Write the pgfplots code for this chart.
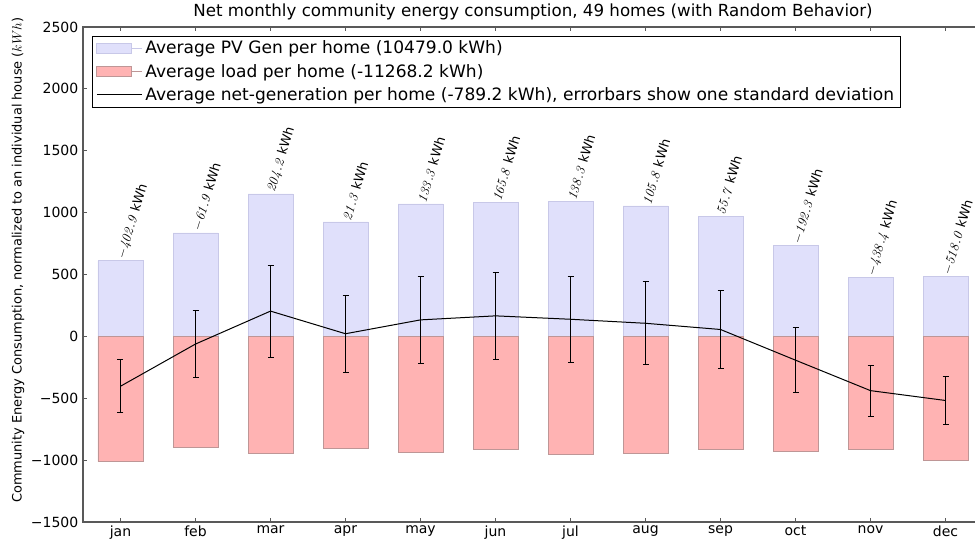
\documentclass[border=0pt]{standalone}
\usepackage[no-math]{fontspec}
\setmainfont{DejaVu Sans}
\usepackage{pgfplots}
\pgfplotsset{compat=1.18}
\definecolor{pvfill}{RGB}{224,224,251}
\definecolor{pvdraw}{RGB}{200,200,232}
\definecolor{ldfill}{RGB}{255,179,179}
\definecolor{lddraw}{RGB}{190,150,150}
\begin{document}
\begin{tikzpicture}
\begin{axis}[
  at={(0,0)}, anchor=south west, scale only axis,
  width=675pt, height=371.25pt,
  xmin=-0.5, xmax=11.5, ymin=-1500, ymax=2500,
  xtick={0,...,11},
  xticklabels={jan,feb,mar,apr,may,jun,jul,aug,sep,oct,nov,dec},
  ytick={-1500,-1000,-500,0,500,1000,1500,2000,2500},
  yticklabels={−1500,−1000,−500,0,500,1000,1500,2000,2500},
  tick align=inside, major tick length=3pt,
  tick style={black!65, line width=0.6pt},
  axis line style={black!65, line width=0.9pt},
  ticklabel style={font=\fontsize{10.5}{12}\selectfont},
  xticklabel style={yshift=0.5pt},
  title={Net monthly community energy consumption, 49 homes (with Random Behavior)},
  title style={at={(0.5,1)}, anchor=base, yshift=1.8pt, font=\fontsize{12.5}{14}\selectfont},
  ylabel={Community Energy Consumption, normalized to an individual house ($kWh$)},
  ylabel style={at={(axis description cs:-0.0722,0.529)}, anchor=center, font=\fontsize{9.7}{11}\selectfont},
  legend style={at={(0.01,0.982)}, anchor=north west, draw=black, line width=0.6pt,
    font=\fontsize{12.8}{14.5}\selectfont, inner xsep=3pt, inner ysep=1.5pt, row sep=2.2pt},
  legend cell align=left,
]
\addplot[ybar, bar width=0.6, bar shift=0pt, fill=pvfill, draw=pvdraw, line width=0.6pt,
  nodes near coords, point meta=explicit symbolic,
  every node near coord/.append style={rotate=73, anchor=west, inner sep=1.5pt, black,
    font=\fontsize{9.7}{11}\selectfont},
  legend image code/.code={\path (0pt,0pt) -- (34pt,0pt);\draw[fill=pvfill, draw=pvdraw, line width=0.6pt] (0pt,-3.75pt) rectangle (26pt,3.75pt);}]
coordinates {
(0,610) [$\mathit{-402.9}$ kWh]
(1,836) [$\mathit{-61.9}$ kWh]
(2,1151) [$\mathit{204.2}$ kWh]
(3,925) [$\mathit{21.3}$ kWh]
(4,1070) [$\mathit{133.3}$ kWh]
(5,1079) [$\mathit{165.8}$ kWh]
(6,1090) [$\mathit{138.3}$ kWh]
(7,1054) [$\mathit{105.8}$ kWh]
(8,968) [$\mathit{55.7}$ kWh]
(9,735) [$\mathit{-192.3}$ kWh]
(10,477) [$\mathit{-438.4}$ kWh]
(11,482) [$\mathit{-518.0}$ kWh]
};
\addlegendentry{Average PV Gen per home (10479.0 kWh)}
\addplot[ybar, bar width=0.6, bar shift=0pt, fill=ldfill, draw=lddraw, line width=0.6pt,
  legend image code/.code={\path (0pt,0pt) -- (34pt,0pt);\draw[fill=ldfill, draw=lddraw, line width=0.6pt] (0pt,-3.75pt) rectangle (26pt,3.75pt);}]
coordinates {
(0,-1012.9) (1,-897.9) (2,-946.8) (3,-903.7) (4,-936.7) (5,-913.2)
(6,-951.7) (7,-948.2) (8,-912.3) (9,-927.3) (10,-915.4) (11,-1000.0)
};
\addlegendentry{Average load per home (-11268.2 kWh)}
\addplot[black, line width=0.75pt, mark=none,
  legend image code/.code={\path (0pt,0pt) -- (34pt,0pt);\draw[black, line width=0.75pt] (4.5pt,0pt) -- (22pt,0pt);},
  error bars/.cd, y dir=both, y explicit,
  error bar style={black, line width=0.75pt},
  error mark=-,
  error mark options={rotate=90, black, mark size=2.25pt, line width=0.6pt}]
coordinates {
(0,-402.9) +- (0,215)
(1,-61.9) +- (0,270)
(2,204.2) +- (0,373)
(3,21.3) +- (0,312)
(4,133.3) +- (0,350)
(5,165.8) +- (0,348)
(6,138.3) +- (0,348)
(7,105.8) +- (0,335)
(8,55.7) +- (0,315)
(9,-192.3) +- (0,262)
(10,-438.4) +- (0,205)
(11,-518.0) +- (0,196)
};
\addlegendentry{Average net-generation per home (-789.2 kWh), errorbars show one standard deviation}
\end{axis}
\pgfresetboundingbox
\path[use as bounding box] (-62.25pt,-13.5pt) rectangle (669pt,391.5pt);
\end{tikzpicture}
\end{document}
